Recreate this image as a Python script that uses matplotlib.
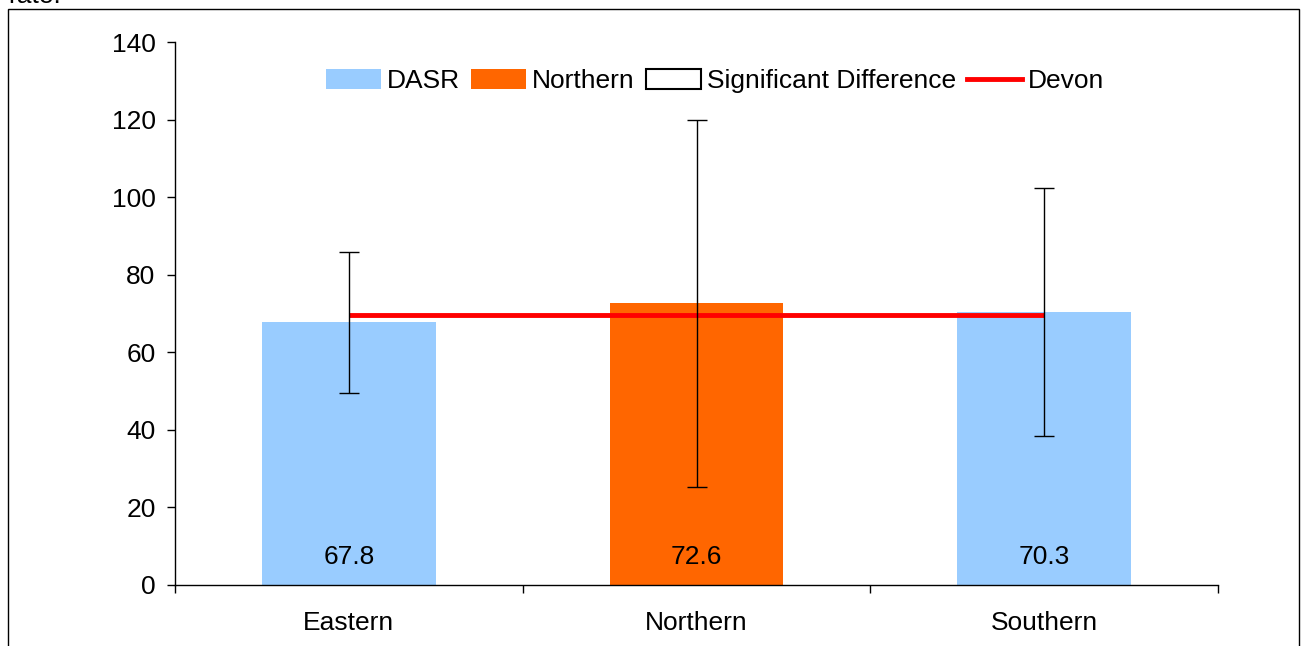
import matplotlib
matplotlib.use('Agg')
import matplotlib.pyplot as plt
from matplotlib.patches import Patch, Rectangle
from matplotlib.lines import Line2D
import numpy as np

plt.rcParams['font.family'] = ['Liberation Sans', 'DejaVu Sans']

# data
areas = ['Eastern', 'Northern', 'Southern']
dasr = [67.8, 72.6, 70.3]
ci_low = [49.5, 25.3, 38.4]
ci_high = [85.8, 119.9, 102.3]
devon = [69.6, 69.6, 69.6]
bar_colors = ['#99CCFF', '#FF6600', '#99CCFF']

fig = plt.figure(figsize=(13.03, 6.46), dpi=100)
ax = fig.add_axes([175 / 1303, 1 - 585 / 646, (1218 - 175) / 1303, (585 - 42) / 646])

x = np.arange(len(areas))
ax.bar(x, dasr, width=0.5, color=bar_colors, zorder=2)
ax.plot(x, devon, color='#FF0000', lw=3.5, zorder=3, solid_capstyle='butt')

vals = np.array(dasr)
yerr = [vals - np.array(ci_low), np.array(ci_high) - vals]
ax.errorbar(x, dasr, yerr=yerr, fmt='none', ecolor='black', elinewidth=1,
            capsize=7, capthick=1, zorder=4)

for xi, v in zip(x, dasr):
    ax.annotate(f'{v:.1f}', xy=(xi, 0), xytext=(0, 20), textcoords='offset points',
                ha='center', va='center', fontsize=19, zorder=5)

ax.set_xlim(-0.5, 2.5)
ax.set_ylim(0, 140)
ax.set_yticks(np.arange(0, 141, 20))
ax.set_xticks(x)
ax.set_xticklabels(areas)
ax.set_xticks([-0.5, 0.5, 1.5, 2.5], minor=True)
ax.tick_params(axis='x', which='major', length=0, pad=19, labelsize=19)
ax.tick_params(axis='x', which='minor', length=6, width=1, direction='out')
ax.tick_params(axis='y', length=6, width=1, direction='out', pad=8, labelsize=19)

for s in ['top', 'right']:
    ax.spines[s].set_visible(False)
for s in ['left', 'bottom']:
    ax.spines[s].set_linewidth(1)
    ax.spines[s].set_color('black')

handles = [Patch(facecolor='#99CCFF', edgecolor='none', label='DASR'),
           Patch(facecolor='#FF6600', edgecolor='none', label='Northern'),
           Patch(facecolor='white', edgecolor='black', lw=1.5, label='Significant Difference'),
           Line2D([], [], color='#FF0000', lw=3.5, label='Devon')]
ax.legend(handles=handles, loc='center', bbox_to_anchor=(0.518, 0.928), ncol=4,
          frameon=False, fontsize=19, handlelength=2.08, handleheight=0.75,
          handletextpad=0.23, columnspacing=0.42, borderpad=0)

# outer border and the clipped caption from the page above
fig.patches.append(Rectangle((8 / 1303, -0.2), (1299 - 8) / 1303, 1.2 - 9 / 646,
                             transform=fig.transFigure, fill=False, edgecolor='black', lw=1))
fig.text(8 / 1303, 1 - 3 / 646, 'rate.', fontsize=19, va='baseline', ha='left')

fig.savefig('out.png', dpi=100)
